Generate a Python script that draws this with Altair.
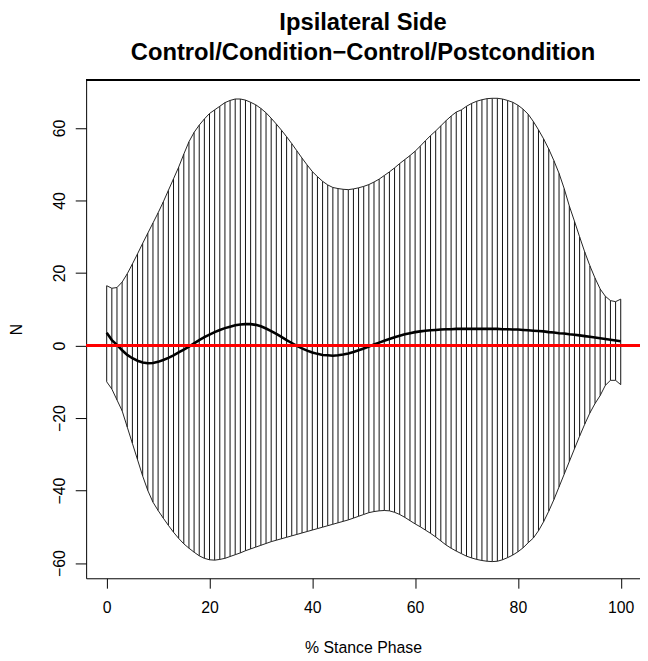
import altair as alt
import pandas as pd

stance = list(range(0, 101))

upper = [16.5, 15.8, 16.0, 17.5, 19.8, 22.5, 25.3, 28.2, 31.0, 33.8,
         36.6, 39.6, 42.8, 46.0, 49.2, 52.8, 56.2, 58.8, 60.8, 62.5,
         64.0, 65.0, 66.0, 67.0, 67.6, 68.0, 68.0, 67.7, 67.1, 66.4,
         65.4, 64.2, 62.7, 61.1, 59.4, 57.6, 55.7, 53.7, 51.7, 49.8,
         48.0, 46.6, 45.3, 44.3, 43.6, 43.3, 43.1, 43.0, 43.2, 43.5,
         43.9, 44.4, 45.1, 45.9, 46.9, 47.9, 49.0, 50.2, 51.3, 52.4,
         53.6, 55.0, 56.5, 57.9, 59.2, 60.6, 62.0, 63.3, 64.4, 65.0,
         66.0, 66.8, 67.4, 67.8, 68.1, 68.2, 68.2, 68.0, 67.6, 67.1,
         66.3, 65.2, 63.8, 61.8, 59.5, 57.0, 54.2, 51.0, 47.5, 43.3,
         38.5, 34.3, 30.0, 25.8, 22.0, 18.6, 15.6, 13.6, 12.4, 12.1,
         12.8]

lower = [-10.0, -12.0, -15.0, -18.0, -22.5, -27.0, -31.5, -36.0, -40.0, -43.2,
         -45.5, -47.6, -49.6, -51.5, -53.2, -54.7, -55.9, -57.0, -58.0, -58.7,
         -59.1, -59.2, -59.0, -58.7, -58.2, -57.7, -57.2, -56.6, -56.1, -55.6,
         -55.1, -54.6, -54.1, -53.7, -53.3, -52.9, -52.5, -52.1, -51.7, -51.3,
         -50.9, -50.5, -50.1, -49.7, -49.3, -48.9, -48.5, -48.1, -47.6, -47.1,
         -46.6, -46.1, -45.8, -45.6, -45.5, -45.6, -46.0, -46.6, -47.4, -48.3,
         -49.2, -50.0, -50.9, -51.8, -52.8, -53.9, -55.0, -55.9, -56.7, -57.4,
         -58.1, -58.6, -59.0, -59.3, -59.5, -59.6, -59.5, -59.1, -58.5, -57.8,
         -56.9, -55.8, -54.4, -53.1, -51.1, -48.6, -45.7, -42.5, -39.0, -35.5,
         -32.0, -28.5, -25.0, -21.7, -18.6, -16.0, -13.8, -11.0, -9.6, -9.6,
         -10.8]

mean = [3.5, 1.5, 0.2, -1.3, -2.6, -3.5, -4.2, -4.7, -4.9, -4.8,
        -4.5, -4.0, -3.4, -2.7, -1.9, -1.1, -0.3, 0.6, 1.5, 2.3,
        3.0, 3.7, 4.3, 4.8, 5.2, 5.6, 5.8, 5.9, 5.9, 5.7,
        5.3, 4.7, 4.0, 3.2, 2.4, 1.5, 0.7, -0.1, -0.8, -1.4,
        -1.9, -2.3, -2.6, -2.7, -2.8, -2.7, -2.5, -2.2, -1.8, -1.3,
        -0.8, -0.3, 0.3, 0.8, 1.3, 1.8, 2.3, 2.7, 3.1, 3.4,
        3.7, 3.9, 4.1, 4.2, 4.3, 4.4, 4.5, 4.5, 4.6, 4.6,
        4.6, 4.6, 4.6, 4.6, 4.6, 4.6, 4.6, 4.5, 4.5, 4.4,
        4.4, 4.3, 4.2, 4.1, 4.0, 3.9, 3.7, 3.6, 3.4, 3.3,
        3.1, 3.0, 2.8, 2.6, 2.4, 2.2, 2.0, 1.8, 1.6, 1.4,
        1.2]

x_ticks = [0, 20, 40, 60, 80, 100]
y_ticks = [-60, -40, -20, 0, 20, 40, 60]

df = pd.DataFrame({"x": stance, "upper": upper, "lower": lower, "mean": mean})

W = 560
H = 504
FONT = "Liberation Sans"

xscale = alt.Scale(domain=[-4, 103.75], nice=False, zero=False)
yscale = alt.Scale(domain=[-64.2, 73.3], nice=False, zero=False)

xaxis = alt.Axis(values=x_ticks, title="% Stance Phase", grid=False,
                 tickSize=10, labelPadding=25, labelBaseline="alphabetic",
                 titleY=75, titleBaseline="alphabetic")
yaxis = alt.Axis(values=y_ticks, title="N", grid=False,
                 tickSize=11, labelPadding=11, labelAngle=270,
                 labelAlign="center", labelBaseline="alphabetic",
                 titleAngle=270, titleX=-65, titleBaseline="alphabetic")

base = alt.Chart(df)

hatch = base.mark_rule(color="#111111", strokeWidth=1).encode(
    x=alt.X("x:Q", scale=xscale, axis=xaxis),
    y=alt.Y("lower:Q", scale=yscale, axis=yaxis),
    y2="upper:Q",
)
up_line = base.mark_line(color="#222222", strokeWidth=1).encode(x="x:Q", y="upper:Q")
lo_line = base.mark_line(color="#222222", strokeWidth=1).encode(x="x:Q", y="lower:Q")
mean_line = base.mark_line(color="black", strokeWidth=2.6).encode(x="x:Q", y="mean:Q")
zero_line = base.mark_rule(color="#ff0000", strokeWidth=2).encode(
    y=alt.datum(0), x=alt.value(0), x2=alt.value(W)
)
top_border = base.mark_rule(color="black", strokeWidth=1).encode(
    y=alt.value(0.5), x=alt.value(0), x2=alt.value(W)
)

chart = alt.layer(hatch, up_line, lo_line, mean_line, zero_line, top_border).properties(
    width=W,
    height=H,
    padding={"left": 79, "top": 69, "right": 0, "bottom": 76},
    autosize=alt.AutoSizeParams(type="none"),
    background="white",
    title=alt.TitleParams(
        text=["Ipsilateral Side", "Control/Condition\u2212Control/Postcondition"],
        fontSize=24, font=FONT, fontWeight="bold", color="black",
        anchor="middle", baseline="bottom", lineHeight=30, offset=-9,
    ),
).configure_view(stroke=None).configure_axis(
    labelFont=FONT, titleFont=FONT, labelFontSize=16, titleFontSize=16,
    labelColor="black", titleColor="black", titleFontWeight="normal",
    domainColor="black", tickColor="black", domainWidth=1, tickWidth=1,
)

chart.save("out.html", embed_options={"renderer": "svg", "actions": False})
